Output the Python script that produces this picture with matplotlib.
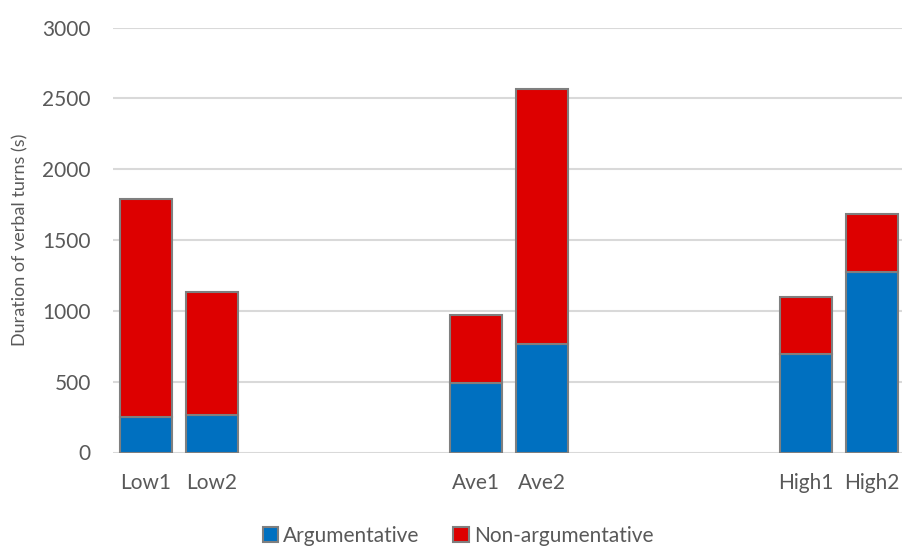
import matplotlib
matplotlib.use("Agg")
import matplotlib.pyplot as plt
from matplotlib.patches import Patch

categories = ["Low1", "Low2", "", "", "", "Ave1", "Ave2", "", "", "", "High1", "High2"]
argumentative = [248, 265, 0, 0, 0, 491, 768, 0, 0, 0, 692, 1273]
non_argumentative = [1543, 869, 0, 0, 0, 483, 1800, 0, 0, 0, 405, 410]
yticks = [0, 500, 1000, 1500, 2000, 2500, 3000]

blue = "#0070C0"
red = "#DD0000"
edge = "#7F7F7F"
txt = "#595959"

plt.rcParams['font.family'] = ['Lato', 'DejaVu Sans']

fig = plt.figure(figsize=(9.03, 5.47), dpi=100)
ax = fig.add_axes([113/903, (547-452.5)/547, 792/903, 425/547])

x = list(range(len(categories)))
plot_idx = [i for i, c in enumerate(categories) if c]
xa = [x[i] for i in plot_idx]
arg_v = [argumentative[i] for i in plot_idx]
non_v = [non_argumentative[i] for i in plot_idx]

w = 0.775
ax.bar(xa, arg_v, width=w, color=blue, edgecolor=edge, linewidth=1.5, zorder=3)
ax.bar(xa, non_v, width=w, bottom=arg_v, color=red, edgecolor=edge, linewidth=1.5, zorder=3)

ax.set_xlim(-0.5, len(categories) - 0.5)
ax.set_ylim(0, 3000)
ax.set_yticks(yticks)
ax.set_yticklabels([str(v) for v in yticks], fontsize=15, color=txt)
ax.set_xticks(x)
ax.set_xticklabels(categories, fontsize=15, color=txt)
ax.tick_params(axis='both', length=0)
ax.tick_params(axis='y', pad=16)
ax.tick_params(axis='x', pad=15)
ax.grid(axis='y', color="#D9D9D9", linewidth=1.5, zorder=0)
for s in ax.spines.values():
    s.set_visible(False)

fig.text(20/903, 1 - 240/547, "Duration of verbal turns (s)", rotation=90,
         fontsize=13, color=txt, ha='center', va='center')

handles = [Patch(facecolor=blue, edgecolor=edge, linewidth=1.5, label="Argumentative"),
           Patch(facecolor=red, edgecolor=edge, linewidth=1.5, label="Non-argumentative")]
fig.legend(handles=handles, loc='center', bbox_to_anchor=(458/903, 1 - 536/547),
           ncol=2, frameon=False, fontsize=15, handlelength=0.75, handleheight=0.75,
           handletextpad=0.25, columnspacing=1.6, labelcolor=txt)

fig.savefig("out.png", dpi=100)
